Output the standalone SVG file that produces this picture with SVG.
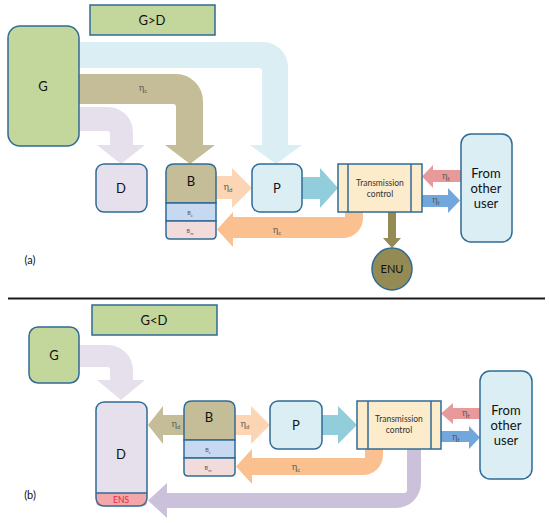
<svg xmlns="http://www.w3.org/2000/svg" width="550" height="523" viewBox="0 0 550 523">
<style>
text{font-family:Lato,"Open Sans","Liberation Sans",sans-serif;text-anchor:middle;fill:#111}
.n{stroke:#2f6b96;stroke-width:1.5}
.big{font-size:13px}
.tc{font-size:8.5px;fill:#333}
.lbl{font-size:9px;fill:#555}
.sub{font-size:6px}
.tiny{font-size:5.5px;fill:#555}
</style>
<rect width="550" height="523" fill="#fff"/>
<g id="connectors">
<path d="M79,42 H263 A25,25 0 0 1 288,67 V145 H302 L276,164 L250,145 H262 V71 Q262,68 259,68 H79 Z" fill="#daeef3"/>
<path d="M79,74 H176 A27,27 0 0 1 203,101 V145 H215 L190,164 L165,145 H176 V107 Q176,104 173,104 H79 Z" fill="#c4bd97"/>
<path d="M79,107 H108 A25,25 0 0 1 133,132 V145 H145 L121,164 L97,145 H110 V134 Q110,131 107,131 H79 Z" fill="#e6e0ec"/>
<path d="M216,176 H232 V168 L252,188 L232,208 V199 H216 Z" fill="#fcd5b5"/>
<path d="M363,212 V218 A20,20 0 0 1 343,238 H233 V247 L217,229.5 L233,212 V217 H345 V212 Z" fill="#fac090"/>
<path d="M302,177 H320 V168 L338,188 L320,208 V199 H302 Z" fill="#92cddc"/>
<path d="M388,212 H396 V238 H401 L392,248 L383,238 H388 Z" fill="#948a54"/>
<path d="M461,170 H433 V165 L422,176.5 L433,188 V182 H461 Z" fill="#e89a9a"/>
<path d="M422,195 H448 V188 L460,200.5 L448,213 V207 H422 Z" fill="#71a7dd"/>
<path d="M79,345 H108 A25,25 0 0 1 133,370 V380 H145 L121,400 L97,380 H110 V370 Q110,367 107,367 H79 Z" fill="#e6e0ec"/>
<path d="M184,415 H163 V406 L148,425 L163,444 V435 H184 Z" fill="#c4bd97"/>
<path d="M235,415 H251 V406 L270,425 L251,444 V435 H235 Z" fill="#fcd5b5"/>
<path d="M322,415 H338 V406 L357,425 L338,444 V435 H322 Z" fill="#92cddc"/>
<path d="M480,408 H453 V403 L441,413.5 L453,424 V419 H480 Z" fill="#e89a9a"/>
<path d="M441,431 H469 V426 L480,437.5 L469,449 V442 H441 Z" fill="#71a7dd"/>
<path d="M383,449 V455 A20,20 0 0 1 363,475 H252 V484 L236,466.5 L252,449 V458 H365 V449 Z" fill="#fac090"/>
<path d="M421,449 V483 A25,25 0 0 1 396,508 H167 V518 L148,500.5 L167,483 V493 H404 Q407,493 407,490 V449 Z" fill="#ccc1da"/>
<text x="143" y="91" class="lbl">η<tspan class="sub" dy="2">c</tspan></text>
<text x="228" y="190" class="lbl">η<tspan class="sub" dy="2">d</tspan></text>
<text x="277" y="233" class="lbl">η<tspan class="sub" dy="2">c</tspan></text>
<text x="446" y="179" class="lbl">η<tspan class="sub" dy="2">t</tspan></text>
<text x="436" y="203" class="lbl">η<tspan class="sub" dy="2">t</tspan></text>
<text x="176" y="427" class="lbl">η<tspan class="sub" dy="2">d</tspan></text>
<text x="245" y="427" class="lbl">η<tspan class="sub" dy="2">d</tspan></text>
<text x="296" y="470" class="lbl">η<tspan class="sub" dy="2">c</tspan></text>
<text x="466" y="416" class="lbl">η<tspan class="sub" dy="2">t</tspan></text>
<text x="456" y="440" class="lbl">η<tspan class="sub" dy="2">t</tspan></text>
</g>
<g id="title-a"><rect x="90" y="5" width="125" height="30" fill="#c3d69b" class="n"/><text x="152" y="25" class="big">G&gt;D</text></g>
<g id="G-a"><rect x="8" y="26" width="71" height="120" rx="12" fill="#c3d69b" class="n"/><text x="43" y="91" class="big">G</text></g>
<g id="D-a"><rect x="96" y="164" width="51" height="48" rx="8" fill="#e6e0ec" class="n"/><text x="121" y="193" class="big">D</text></g>
<g id="B-a">
<path d="M166,203 V172 Q166,164 174,164 H208 Q216,164 216,172 V203 Z" fill="#c4bd97" class="n"/>
<rect x="166" y="203" width="50" height="18" fill="#c6d9f1" class="n"/>
<path d="M166,221 H216 V235 Q216,239 212,239 H170 Q166,239 166,235 Z" fill="#f2dcdb" class="n"/>
<text x="191" y="186" class="big">B</text>
<text x="190" y="215" class="tiny">B<tspan dy="1.5" font-size="4">c</tspan></text>
<text x="190" y="233" class="tiny">B<tspan dy="1.5" font-size="4">m</tspan></text>
</g>
<g id="P-a"><rect x="252" y="164" width="50" height="48" rx="8" fill="#dbeef4" class="n"/><text x="277" y="193" class="big">P</text></g>
<g id="TC-a"><rect x="338" y="164" width="84" height="48" fill="#fdeccc" class="n"/><line x1="348" y1="164" x2="348" y2="212" class="n"/><line x1="411" y1="164" x2="411" y2="212" class="n"/><text x="380" y="186" class="tc">Transmission</text><text x="380" y="197" class="tc">control</text></g>
<g id="ENU"><ellipse cx="392" cy="269" rx="20" ry="21" fill="#948a54" class="n"/><text x="392" y="273" font-size="11">ENU</text></g>
<g id="User-a"><rect x="461" y="134" width="51" height="108" rx="10" fill="#dbeef4" class="n"/><text x="486" y="178" class="big">From</text><text x="486" y="193" class="big">other</text><text x="486" y="208" class="big">user</text></g>
<text x="30" y="264" font-size="11">(a)</text>
<line x1="8" y1="298.5" x2="545" y2="298.5" stroke="#1a1a1a" stroke-width="2"/>
<g id="title-b"><rect x="92" y="305" width="125" height="30" fill="#c3d69b" class="n"/><text x="154" y="325" class="big">G&lt;D</text></g>
<g id="G-b"><rect x="29" y="327" width="50" height="56" rx="9" fill="#c3d69b" class="n"/><text x="54" y="360" class="big">G</text></g>
<g id="D-b">
<rect x="96" y="402" width="51" height="104" rx="8" fill="#e6e0ec"/>
<path d="M96,493 H147 V502 Q147,506 143,506 H100 Q96,506 96,502 Z" fill="#f4a7a9"/>
<rect x="96" y="402" width="51" height="104" rx="8" fill="none" class="n"/>
<line x1="96" y1="493" x2="147" y2="493" class="n"/>
<text x="121" y="459" class="big">D</text>
<text x="121" y="503" font-size="8.5" style="fill:#ee2244">ENS</text>
</g>
<g id="B-b">
<path d="M184,440 V409 Q184,401 192,401 H227 Q235,401 235,409 V440 Z" fill="#c4bd97" class="n"/>
<rect x="184" y="440" width="51" height="18" fill="#c6d9f1" class="n"/>
<path d="M184,458 H235 V472 Q235,476 231,476 H188 Q184,476 184,472 Z" fill="#f2dcdb" class="n"/>
<text x="209" y="422" class="big">B</text>
<text x="208" y="452" class="tiny">B<tspan dy="1.5" font-size="4">c</tspan></text>
<text x="208" y="470" class="tiny">B<tspan dy="1.5" font-size="4">m</tspan></text>
</g>
<g id="P-b"><rect x="270" y="401" width="52" height="48" rx="8" fill="#dbeef4" class="n"/><text x="296" y="430" class="big">P</text></g>
<g id="TC-b"><rect x="357" y="401" width="84" height="48" fill="#fdeccc" class="n"/><line x1="368" y1="401" x2="368" y2="449" class="n"/><line x1="431" y1="401" x2="431" y2="449" class="n"/><text x="399" y="422" class="tc">Transmission</text><text x="399" y="433" class="tc">control</text></g>
<g id="User-b"><rect x="480" y="371" width="52" height="108" rx="10" fill="#dbeef4" class="n"/><text x="506" y="415" class="big">From</text><text x="506" y="430" class="big">other</text><text x="506" y="445" class="big">user</text></g>
<text x="30" y="499" font-size="11">(b)</text>
</svg>
